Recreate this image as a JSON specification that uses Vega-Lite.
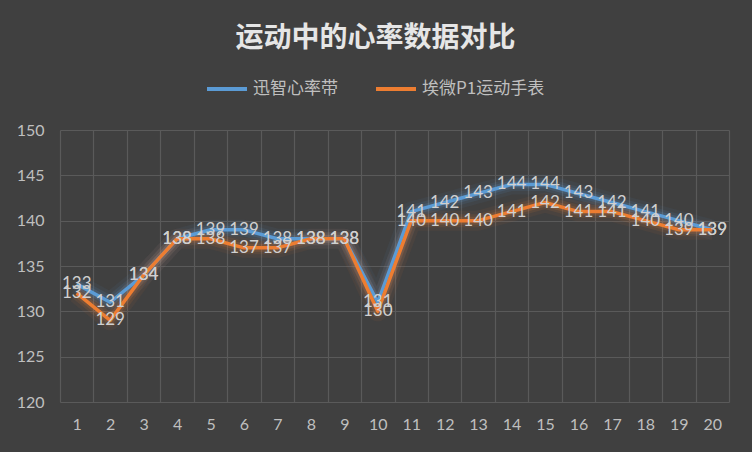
{
  "$schema": "https://vega.github.io/schema/vega-lite/v6.json",
  "width": 669,
  "height": 272,
  "autosize": {"type": "none"},
  "padding": {"left": 60, "top": 130, "right": 23, "bottom": 50},
  "background": "#404040",
  "title": {
    "text": "运动中的心率数据对比",
    "font": "Noto Sans CJK SC",
    "fontSize": 28,
    "fontWeight": "bold",
    "color": "#e6e6e6",
    "anchor": "middle",
    "dx": -19,
    "offset": 14
  },
  "config": {
    "view": {"stroke": null},
    "font": "Lato",
    "axis": {
      "domain": false,
      "ticks": false,
      "gridColor": "#5a5a5a",
      "gridWidth": 1.2,
      "labelColor": "#bfbfbf",
      "labelFontSize": 16,
      "labelFont": "Lato",
      "title": null
    },
    "legend": {
      "labelColor": "#bfbfbf",
      "labelFontSize": 17,
      "labelFont": "Noto Sans CJK SC",
      "symbolType": "stroke",
      "symbolStrokeWidth": 4,
      "symbolOpacity": 1,
      "symbolSize": 1600,
      "columnPadding": 30
    }
  },
  "data": {
    "values": [
      {"x": 1, "s": "迅智心率带", "v": 133}, {"x": 2, "s": "迅智心率带", "v": 131}, {"x": 3, "s": "迅智心率带", "v": 134}, {"x": 4, "s": "迅智心率带", "v": 138}, {"x": 5, "s": "迅智心率带", "v": 139},
      {"x": 6, "s": "迅智心率带", "v": 139}, {"x": 7, "s": "迅智心率带", "v": 138}, {"x": 8, "s": "迅智心率带", "v": 138}, {"x": 9, "s": "迅智心率带", "v": 138}, {"x": 10, "s": "迅智心率带", "v": 131},
      {"x": 11, "s": "迅智心率带", "v": 141}, {"x": 12, "s": "迅智心率带", "v": 142}, {"x": 13, "s": "迅智心率带", "v": 143}, {"x": 14, "s": "迅智心率带", "v": 144}, {"x": 15, "s": "迅智心率带", "v": 144},
      {"x": 16, "s": "迅智心率带", "v": 143}, {"x": 17, "s": "迅智心率带", "v": 142}, {"x": 18, "s": "迅智心率带", "v": 141}, {"x": 19, "s": "迅智心率带", "v": 140}, {"x": 20, "s": "迅智心率带", "v": 139},
      {"x": 1, "s": "埃微P1运动手表", "v": 132}, {"x": 2, "s": "埃微P1运动手表", "v": 129}, {"x": 3, "s": "埃微P1运动手表", "v": 134}, {"x": 4, "s": "埃微P1运动手表", "v": 138}, {"x": 5, "s": "埃微P1运动手表", "v": 138},
      {"x": 6, "s": "埃微P1运动手表", "v": 137}, {"x": 7, "s": "埃微P1运动手表", "v": 137}, {"x": 8, "s": "埃微P1运动手表", "v": 138}, {"x": 9, "s": "埃微P1运动手表", "v": 138}, {"x": 10, "s": "埃微P1运动手表", "v": 130},
      {"x": 11, "s": "埃微P1运动手表", "v": 140}, {"x": 12, "s": "埃微P1运动手表", "v": 140}, {"x": 13, "s": "埃微P1运动手表", "v": 140}, {"x": 14, "s": "埃微P1运动手表", "v": 141}, {"x": 15, "s": "埃微P1运动手表", "v": 142},
      {"x": 16, "s": "埃微P1运动手表", "v": 141}, {"x": 17, "s": "埃微P1运动手表", "v": 141}, {"x": 18, "s": "埃微P1运动手表", "v": 140}, {"x": 19, "s": "埃微P1运动手表", "v": 139}, {"x": 20, "s": "埃微P1运动手表", "v": 139}
    ]
  },
  "encoding": {
    "x": {
      "field": "x",
      "type": "quantitative",
      "scale": {"domain": [0.5, 20.5], "nice": false, "zero": false},
      "axis": {
        "values": [0.5, 1, 1.5, 2, 2.5, 3, 3.5, 4, 4.5, 5, 5.5, 6, 6.5, 7, 7.5, 8, 8.5, 9, 9.5, 10, 10.5, 11, 11.5, 12, 12.5, 13, 13.5, 14, 14.5, 15, 15.5, 16, 16.5, 17, 17.5, 18, 18.5, 19, 19.5, 20, 20.5],
        "labelExpr": "datum.value % 1 ? '' : format(datum.value, 'd')",
        "labelPadding": 14,
        "labelFlush": false,
        "labelOverlap": false,
        "gridOpacity": {"condition": {"test": "datum.value % 1 === 0", "value": 0}, "value": 1}
      }
    },
    "y": {
      "field": "v",
      "type": "quantitative",
      "scale": {"domain": [120, 150], "nice": false, "zero": false},
      "axis": {"values": [120, 125, 130, 135, 140, 145, 150], "labelPadding": 16}
    },
    "color": {
      "field": "s",
      "type": "nominal",
      "sort": ["迅智心率带", "埃微P1运动手表"],
      "scale": {"domain": ["迅智心率带", "埃微P1运动手表"], "range": ["#5b9bd5", "#ed7d31"]},
      "legend": {"orient": "none", "direction": "horizontal", "legendX": 145, "legendY": -63, "title": null}
    }
  },
  "layer": [
    {"mark": {"type": "line", "strokeWidth": 20, "opacity": 0.06, "strokeJoin": "round"}},
    {"mark": {"type": "line", "strokeWidth": 13, "opacity": 0.1, "strokeJoin": "round"}},
    {"mark": {"type": "line", "strokeWidth": 8, "opacity": 0.16, "strokeJoin": "round"}},
    {"mark": {"type": "line", "strokeWidth": 3.5, "strokeJoin": "round"}},
    {
      "mark": {"type": "text", "fontSize": 17, "align": "center", "baseline": "middle", "font": "Lato"},
      "encoding": {"text": {"field": "v", "type": "quantitative"}, "color": {"value": "#d0d0d0"}}
    }
  ]
}
